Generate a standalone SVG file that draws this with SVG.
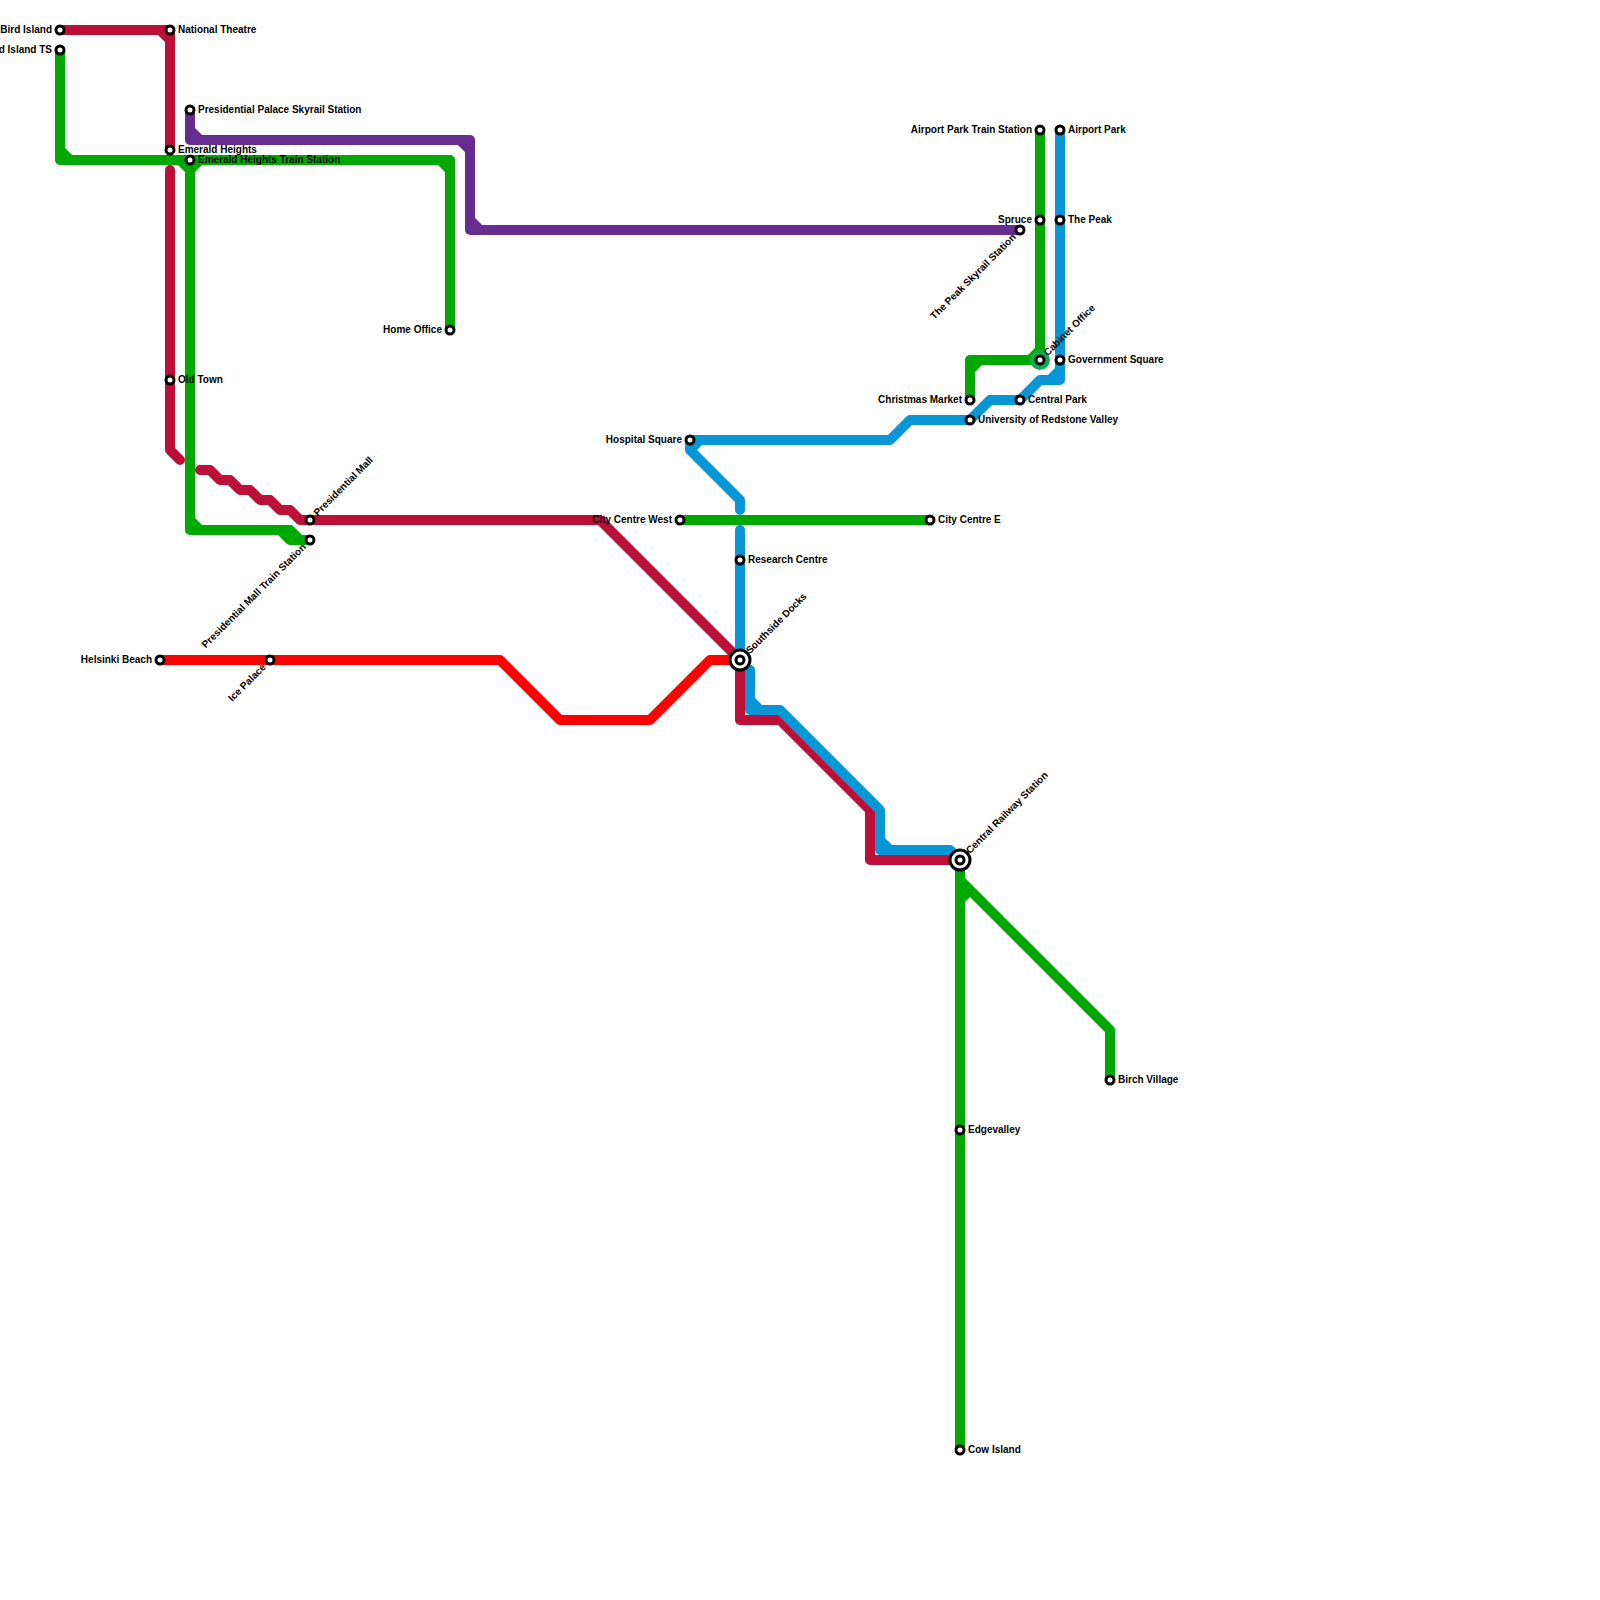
<svg xmlns="http://www.w3.org/2000/svg" width="1600" height="1600" viewBox="0 0 1600 1600">
<style>
.l{fill:none;stroke-width:10;stroke-linejoin:round;stroke-linecap:round}
.cr{stroke:#bd1038}.gr{stroke:#00a800}.pu{stroke:#662c90}.bl{stroke:#0896d7}.re{stroke:#ff0000}
.s{fill:#fff;stroke:#000;stroke-width:3}
.h{fill:#fff;stroke:#000;stroke-width:3}
text{font-family:"Liberation Sans",Arial,sans-serif;font-size:10px;font-weight:bold;fill:#000}
.e{text-anchor:end}
</style>
<rect width="1600" height="1600" fill="#fff"/>
<g id="connectors">
<path class="l cr" d="M60 30H170V150M160 30L170 40"/>
<path class="l cr" d="M170 170V450L180 460"/>
<path class="l cr" d="M200 470H210L220 480H230L240 490H250L260 500H270L280 510H290L300 520H600L740 660V720H780L870 810V860H960"/>
<path class="l re" d="M160 660H500L560 720H650L710 660H740"/>
<path class="l gr" d="M60 50V160H450V330M60 150L70 160M440 160L450 170"/>
<path class="l gr" d="M180 160L190 170L200 160M190 170V530H290L300 540H310M190 520L200 530M280 530L290 540H300"/>
<path class="l pu" d="M190 110V140H470V230H1020M190 130L200 140M460 140L470 150M470 220L480 230"/>
<path class="l gr" d="M680 520H930"/>
<path class="l bl" d="M690 440H890L910 420H970L990 400H1020L1040 380H1060V130M1050 380L1060 370"/>
<path class="l bl" d="M700 440L690 450V440M690 450L740 500V510"/>
<path class="l bl" d="M740 530V660"/>
<path class="l bl" d="M750 670V710H780L880 810V850H950L960 860M750 700L760 710M880 840L890 850"/>
<path class="l gr" d="M1040 130V360H970V400M1030 360L1040 350M970 370L980 360"/>
<path class="l gr" d="M960 860V1450M960 880L1110 1030V1080M970 890L960 900"/>
</g>
<g id="n-bird-island"><circle class="s" cx="60" cy="30" r="4"/><text class="e" x="52" y="33">Bird Island</text></g>
<g id="n-bird-island-ts"><circle class="s" cx="60" cy="50" r="4"/><text class="e" x="52" y="53">Bird Island TS</text></g>
<g id="n-national-theatre"><circle class="s" cx="170" cy="30" r="4"/><text x="178" y="33">National Theatre</text></g>
<g id="n-presidential-palace"><circle class="s" cx="190" cy="110" r="4"/><text x="198" y="113">Presidential Palace Skyrail Station</text></g>
<g id="n-emerald-heights"><circle class="s" cx="170" cy="150" r="4"/><text x="178" y="153">Emerald Heights</text></g>
<g id="n-emerald-heights-ts"><circle class="s" cx="190" cy="160" r="4"/><text x="198" y="163">Emerald Heights Train Station</text></g>
<g id="n-old-town"><circle class="s" cx="170" cy="380" r="4"/><text x="178" y="383">Old Town</text></g>
<g id="n-home-office"><circle class="s" cx="450" cy="330" r="4"/><text class="e" x="442" y="333">Home Office</text></g>
<g id="n-presidential-mall"><circle class="s" cx="310" cy="520" r="4"/><text transform="translate(310 520) rotate(-45)" x="8" y="3">Presidential Mall</text></g>
<g id="n-presidential-mall-ts"><circle class="s" cx="310" cy="540" r="4"/><text class="e" transform="translate(310 540) rotate(-45)" x="-8" y="3">Presidential Mall Train Station</text></g>
<g id="n-helsinki-beach"><circle class="s" cx="160" cy="660" r="4"/><text class="e" x="152" y="663">Helsinki Beach</text></g>
<g id="n-ice-palace"><circle class="s" cx="270" cy="660" r="4"/><text class="e" transform="translate(270 660) rotate(-45)" x="-8" y="3">Ice Palace</text></g>
<g id="n-hospital-square"><circle class="s" cx="690" cy="440" r="4"/><text class="e" x="682" y="443">Hospital Square</text></g>
<g id="n-city-centre-west"><circle class="s" cx="680" cy="520" r="4"/><text class="e" x="672" y="523">City Centre West</text></g>
<g id="n-city-centre-e"><circle class="s" cx="930" cy="520" r="4"/><text x="938" y="523">City Centre E</text></g>
<g id="n-research-centre"><circle class="s" cx="740" cy="560" r="4"/><text x="748" y="563">Research Centre</text></g>
<g id="n-southside-docks"><circle class="h" cx="740" cy="660" r="10"/><circle class="s" cx="740" cy="660" r="4"/><text transform="translate(740 660) rotate(-45)" x="11" y="3">Southside Docks</text></g>
<g id="n-central-railway"><circle class="h" cx="960" cy="860" r="10"/><circle class="s" cx="960" cy="860" r="4"/><text transform="translate(960 860) rotate(-45)" x="11" y="3">Central Railway Station</text></g>
<g id="n-edgevalley"><circle class="s" cx="960" cy="1130" r="4"/><text x="968" y="1133">Edgevalley</text></g>
<g id="n-cow-island"><circle class="s" cx="960" cy="1450" r="4"/><text x="968" y="1453">Cow Island</text></g>
<g id="n-birch-village"><circle class="s" cx="1110" cy="1080" r="4"/><text x="1118" y="1083">Birch Village</text></g>
<g id="n-peak-skyrail"><circle class="s" cx="1020" cy="230" r="4"/><text class="e" transform="translate(1020 230) rotate(-45)" x="-8" y="3">The Peak Skyrail Station</text></g>
<g id="n-airport-park-ts"><circle class="s" cx="1040" cy="130" r="4"/><text class="e" x="1032" y="133">Airport Park Train Station</text></g>
<g id="n-spruce"><circle class="s" cx="1040" cy="220" r="4"/><text class="e" x="1032" y="223">Spruce</text></g>
<g id="n-cabinet-office"><circle cx="1040" cy="360" r="10" fill="#10ac50"/><circle class="s" cx="1040" cy="360" r="4"/><text transform="translate(1040 360) rotate(-45)" x="8" y="3">Cabinet Office</text></g>
<g id="n-airport-park"><circle class="s" cx="1060" cy="130" r="4"/><text x="1068" y="133">Airport Park</text></g>
<g id="n-the-peak"><circle class="s" cx="1060" cy="220" r="4"/><text x="1068" y="223">The Peak</text></g>
<g id="n-government-square"><circle class="s" cx="1060" cy="360" r="4"/><text x="1068" y="363">Government Square</text></g>
<g id="n-christmas-market"><circle class="s" cx="970" cy="400" r="4"/><text class="e" x="962" y="403">Christmas Market</text></g>
<g id="n-central-park"><circle class="s" cx="1020" cy="400" r="4"/><text x="1028" y="403">Central Park</text></g>
<g id="n-university"><circle class="s" cx="970" cy="420" r="4"/><text x="978" y="423">University of Redstone Valley</text></g>
</svg>
